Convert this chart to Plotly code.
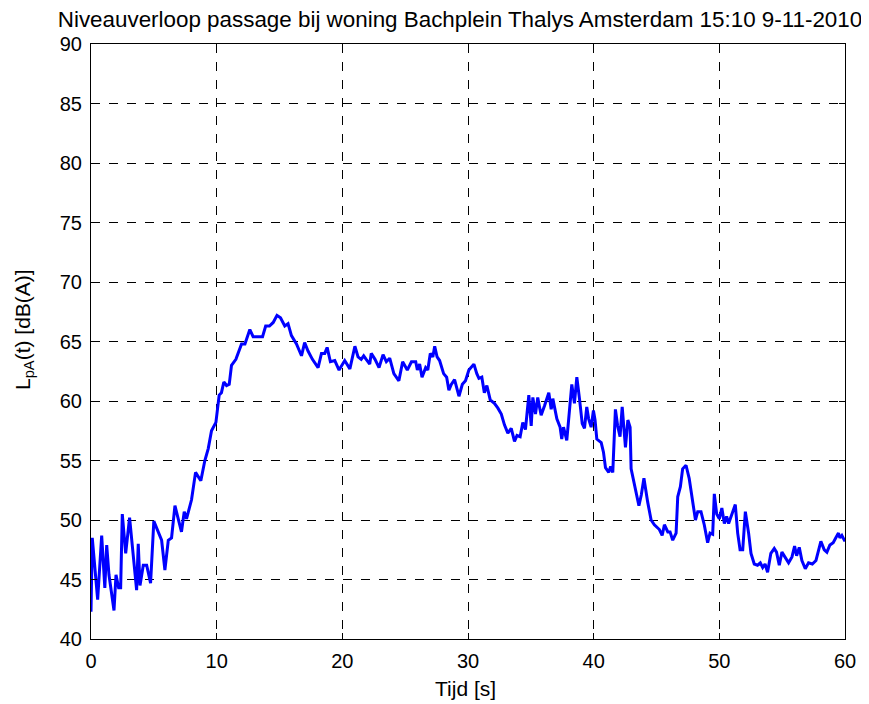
import plotly.graph_objects as go

time_s = [
    0, 0.1, 0.53, 0.85, 1.1, 1.25, 1.43, 1.83, 1.99, 2.2,
    2.36, 2.49, 2.76, 3.07, 3.63, 3.76, 3.9, 4.16, 4.43, 4.74,
    5.0, 5.35, 5.62, 5.88, 6.15, 6.41, 6.68, 7.2, 7.42, 7.6,
    8.0, 8.32, 8.74, 9.06, 9.33, 9.59, 9.94, 10.2, 10.38, 10.57,
    10.79, 11.0, 11.18, 11.53, 11.98, 12.25, 12.64, 12.9, 13.3, 13.65,
    13.9, 14.2, 14.5, 14.8, 15.08, 15.42, 15.68, 15.95, 16.35, 16.75,
    17.0, 17.27, 17.62, 18.07, 18.34, 18.6, 18.79, 19.05, 19.4, 19.74,
    20.19, 20.6, 21.0, 21.25, 21.5, 21.7, 21.9, 22.18, 22.3, 22.6,
    22.92, 23.24, 23.5, 23.77, 24.1, 24.5, 24.8, 25.17, 25.5, 25.84,
    25.97, 26.15, 26.34, 26.63, 26.8, 27.0, 27.2, 27.35, 27.54, 27.74,
    28.06, 28.3, 28.48, 28.67, 28.93, 29.28, 29.55, 29.8, 30.07, 30.47,
    30.7, 30.87, 31.1, 31.3, 31.5, 31.77, 32.1, 32.38, 32.65, 32.9,
    33.17, 33.44, 33.7, 33.9, 34.15, 34.36, 34.57, 34.84, 35.03, 35.16,
    35.37, 35.55, 35.69, 35.82, 36.09, 36.43, 36.62, 36.75, 37.07, 37.33,
    37.46, 37.6, 37.86, 38.08, 38.26, 38.47, 38.66, 38.87, 39.09, 39.27,
    39.45, 39.6, 39.8, 39.98, 40.11, 40.25, 40.6, 40.78, 40.94, 41.2,
    41.35, 41.52, 41.73, 41.91, 42.1, 42.27, 42.53, 42.72, 42.9, 42.98,
    43.3, 43.6, 43.79, 44.0, 44.3, 44.57, 44.83, 45.23, 45.45, 45.63,
    45.9, 46.08, 46.29, 46.56, 46.69, 46.9, 47.08, 47.35, 47.6, 47.88,
    48.1, 48.28, 48.54, 48.8, 49.07, 49.26, 49.47, 49.6, 49.79, 50.0,
    50.2, 50.4, 50.58, 50.74, 50.93, 51.27, 51.46, 51.65, 51.86, 52.07,
    52.33, 52.52, 52.78, 53.04, 53.26, 53.45, 53.64, 53.84, 54.1, 54.37,
    54.55, 54.77, 54.98, 55.25, 55.51, 55.78, 55.99, 56.15, 56.36, 56.57,
    56.84, 57.1, 57.4, 57.69, 57.9, 58.08, 58.35, 58.56, 58.8, 59.06,
    59.27, 59.48, 59.59, 59.75, 59.9, 60.0,
]

level_dba = [
    42.3, 48.5, 43.3, 48.7, 44.3, 47.9, 45.4, 42.4, 45.4, 44.3,
    44.3, 50.5, 47.2, 50.2, 44.1, 48.0, 44.5, 46.2, 46.2, 44.7,
    49.9, 48.9, 48.3, 45.8, 48.3, 48.5, 51.2, 49.0, 50.7, 50.1,
    51.7, 54.0, 53.3, 55.0, 56.0, 57.5, 58.2, 60.5, 60.7, 61.6,
    61.3, 61.4, 63.0, 63.5, 64.8, 64.8, 66.0, 65.4, 65.4, 65.4,
    66.3, 66.3, 66.6, 67.2, 67.0, 66.3, 66.5, 65.5, 64.8, 63.8,
    64.9, 64.2, 63.5, 62.8, 64.0, 64.0, 64.5, 63.3, 63.4, 62.6,
    63.4, 62.7, 64.6, 63.7, 63.5, 63.8, 63.5, 63.1, 64.0, 63.5,
    62.8, 63.9, 63.3, 63.6, 62.3, 61.7, 63.3, 62.6, 63.3, 63.3,
    62.6, 63.1, 62.0, 62.8, 62.6, 64.0, 63.7, 64.6, 63.7, 63.4,
    62.3, 62.0, 60.9, 61.4, 61.8, 60.4, 61.4, 61.7, 62.6, 63.1,
    62.3, 61.9, 62.0, 60.7, 61.3, 60.1, 59.8, 59.4, 58.9, 58.0,
    57.3, 57.7, 56.6, 57.1, 57.0, 58.2, 57.6, 60.5, 57.9, 60.3,
    58.9, 60.3, 59.5, 58.8, 59.6, 60.7, 59.3, 60.2, 58.5, 57.8,
    56.8, 57.8, 56.7, 59.3, 61.4, 59.8, 62.0, 60.2, 58.1, 57.7,
    59.5, 58.5, 57.8, 59.2, 58.4, 56.8, 56.5, 55.7, 54.4, 54.0,
    54.5, 54.0, 59.3, 57.9, 57.0, 59.5, 56.1, 58.4, 57.8, 54.3,
    52.6, 51.2, 52.1, 53.5, 51.5, 50.0, 49.6, 49.2, 48.7, 49.6,
    49.0, 49.0, 48.3, 48.9, 51.95, 52.8, 54.3, 54.6, 53.5, 51.5,
    50.0, 50.7, 50.7, 49.6, 48.1, 48.9, 48.8, 52.2, 50.5, 50.1,
    51.0, 49.7, 50.3, 49.7, 50.3, 51.3, 48.9, 47.5, 47.5, 50.7,
    48.9, 47.2, 46.3, 46.2, 46.4, 46.0, 46.3, 45.6, 47.2, 47.6,
    47.3, 46.2, 47.3, 46.8, 46.4, 46.9, 47.8, 47.0, 47.7, 46.6,
    45.9, 46.4, 46.3, 46.6, 47.5, 48.2, 47.5, 47.3, 47.9, 48.1,
    48.5, 48.9, 48.5, 48.7, 48.4, 48.2,
]

x_ticks = [0, 10, 20, 30, 40, 50, 60]
y_ticks = [40, 45, 50, 55, 60, 65, 70, 75, 80, 85, 90]

title_text = "Niveauverloop passage bij woning Bachplein Thalys Amsterdam 15:10 9-11-2010"
x_title = "Tijd [s]"
y_title = "L<sub>pA</sub>(t) [dB(A)]"

# the page body adds an 8px offset; target coordinates are in window pixels
OFF = 8
W, H = 869 - OFF, 704 - OFF
PL, PR, PT, PB = 91, 845, 44, 639  # plot box in window pixels
font_family = "Liberation Sans, Arial, sans-serif"

fig = go.Figure()
fig.add_trace(go.Scatter(
    x=time_s, y=level_dba, mode="lines",
    line=dict(color="#0000FF", width=3),
    showlegend=False,
))

axis_common = dict(
    showline=True, linecolor="black", linewidth=1, mirror="allticks",
    ticks="inside", ticklen=6, tickcolor="black",
    showgrid=True, gridcolor="black", griddash="dash", gridwidth=1,
    zeroline=False, automargin=False,
    tickfont=dict(family=font_family, size=20, color="black"),
)

pw, ph = PR - PL, PB - PT

fig.update_layout(
    width=W, height=H,
    paper_bgcolor="white", plot_bgcolor="white",
    margin=dict(l=PL - OFF, r=W - (PR - OFF), t=PT - OFF, b=H - (PB - OFF)),
    title=dict(text=title_text, xref="container", yref="container",
               x=(460 - OFF) / W, xanchor="center", y=1 - (19 - OFF) / H, yanchor="middle",
               font=dict(family=font_family, size=22.4, color="black")),
    xaxis=dict(range=[0, 60], tickvals=x_ticks, ticktext=[str(v) for v in x_ticks],
               ticklabelstandoff=4, **axis_common),
    yaxis=dict(range=[40, 90], tickvals=y_ticks, ticktext=[str(v) for v in y_ticks],
               ticklabelstandoff=4, **axis_common),
    annotations=[
        dict(text=x_title, xref="paper", yref="paper",
             x=(465 - PL) / pw, y=-(688 - PB) / ph,
             xanchor="center", yanchor="middle", showarrow=False,
             font=dict(family=font_family, size=21, color="black")),
        dict(text=y_title, xref="paper", yref="paper", textangle=-90,
             x=-(PL - 24) / pw, y=(PB - 330) / ph,
             xanchor="center", yanchor="middle", showarrow=False,
             font=dict(family=font_family, size=21, color="black")),
    ],
)

fig.write_html("out.html")
